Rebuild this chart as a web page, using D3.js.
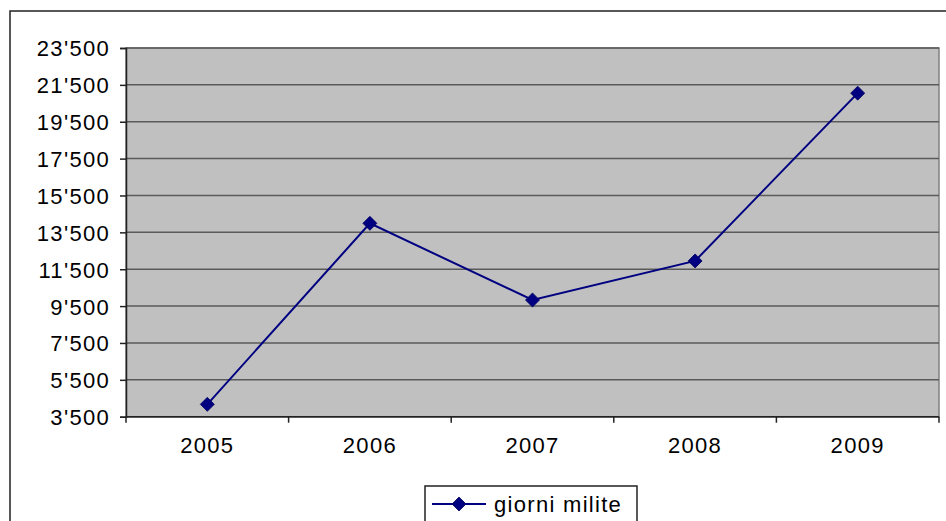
<!DOCTYPE html>
<html>
<head>
<meta charset="utf-8">
<script src="https://cdn.jsdelivr.net/npm/d3@7"></script>
<style>
  body { margin: 0; background: #fff; }
  text { font-family: "Liberation Sans", Arial, sans-serif; font-size: 22px; letter-spacing: 1.3px; fill: #000; }
</style>
</head>
<body>
<svg></svg>
<script>
const years = ['2005', '2006', '2007', '2008', '2009'];
const giorniMilite = [4170, 13990, 9830, 11950, 21050];
const yTicks = [3500, 5500, 7500, 9500, 11500, 13500, 15500, 17500, 19500, 21500, 23500];
const seriesName = 'giorni milite';

const size = {w: 946, h: 521};
const plot = {l: 126, r: 939, t: 48, b: 416.7};

const svg = d3.select('svg')
    .attr('width', size.w)
    .attr('height', size.h);

// chart area border (runs off the right and bottom)
svg.append('rect')
    .attr('x', 10).attr('y', 11)
    .attr('width', 1000).attr('height', 1000)
    .attr('fill', 'none')
    .attr('stroke', '#222')
    .attr('stroke-width', 1.5);

const x = d3.scaleBand()
    .domain(years)
    .range([plot.l, plot.r]);

const y = d3.scaleLinear()
    .domain([3500, 23500])
    .range([plot.b, plot.t]);

const locale = d3.formatLocale({decimal: '.', thousands: "'", grouping: [3], currency: ['', '']});
const fmt = locale.format(',');

// plot background
svg.append('rect')
    .attr('x', plot.l).attr('y', plot.t)
    .attr('width', plot.r - plot.l).attr('height', plot.b - plot.t)
    .attr('fill', '#c0c0c0')
    .attr('stroke', '#808080')
    .attr('stroke-width', 1.5);

// gridlines
svg.append('g')
    .selectAll('line')
    .data(yTicks)
    .join('line')
    .attr('x1', plot.l).attr('x2', plot.r)
    .attr('y1', d => y(d)).attr('y2', d => y(d))
    .attr('stroke', '#5a5a5a')
    .attr('stroke-width', 1.5);

// y axis
const yAxis = svg.append('g')
    .attr('transform', `translate(${plot.l},0)`)
    .call(d3.axisLeft(y).tickValues(yTicks).tickFormat(fmt).tickSize(6).tickPadding(10));
yAxis.select('.domain').attr('stroke', '#222').attr('stroke-width', 1.5);
yAxis.selectAll('.tick line').attr('stroke', '#222').attr('stroke-width', 1.5);
yAxis.selectAll('text').attr('dy', '0.36em');
yAxis.attr('font-size', null).attr('font-family', null);

// x axis with ticks at category boundaries
const xAxis = svg.append('g')
    .attr('transform', `translate(0,${plot.b})`);
xAxis.append('line')
    .attr('x1', plot.l).attr('x2', plot.r)
    .attr('stroke', '#222').attr('stroke-width', 1.5);
const bounds = years.map(d => x(d)).concat([x(years[years.length - 1]) + x.bandwidth()]);
xAxis.selectAll('line.tk')
    .data(bounds)
    .join('line').classed('tk', true)
    .attr('x1', d => d).attr('x2', d => d)
    .attr('y1', 0).attr('y2', 6)
    .attr('stroke', '#222').attr('stroke-width', 1.5);
xAxis.selectAll('text')
    .data(years)
    .join('text')
    .attr('x', d => x(d) + x.bandwidth() / 2)
    .attr('y', 36.8)
    .attr('text-anchor', 'middle')
    .text(d => d);

// series line
const pts = years.map((d, i) => [x(d) + x.bandwidth() / 2, y(giorniMilite[i])]);
svg.append('path')
    .attr('d', d3.line()(pts))
    .attr('fill', 'none')
    .attr('stroke', '#000080')
    .attr('stroke-width', 2);

const diamond = d3.symbol().type(d3.symbolDiamond2).size(125);
svg.append('g')
    .selectAll('path')
    .data(pts)
    .join('path')
    .attr('transform', d => `translate(${d[0]},${d[1]})`)
    .attr('d', diamond)
    .attr('fill', '#000080')
    .attr('stroke', '#000060')
    .attr('stroke-width', 0.8);

// legend
const lg = svg.append('g').attr('transform', 'translate(425,486)');
lg.append('rect')
    .attr('width', 212).attr('height', 60)
    .attr('fill', '#fff')
    .attr('stroke', '#222')
    .attr('stroke-width', 1.5);
lg.append('line')
    .attr('x1', 7).attr('x2', 61)
    .attr('y1', 18).attr('y2', 18)
    .attr('stroke', '#000080').attr('stroke-width', 2);
lg.append('path')
    .attr('transform', 'translate(34,18)')
    .attr('d', diamond)
    .attr('fill', '#000080')
    .attr('stroke', '#000060')
    .attr('stroke-width', 0.8);
lg.append('text')
    .attr('x', 69).attr('y', 25.8)
    .text(seriesName);
</script>
</body>
</html>
